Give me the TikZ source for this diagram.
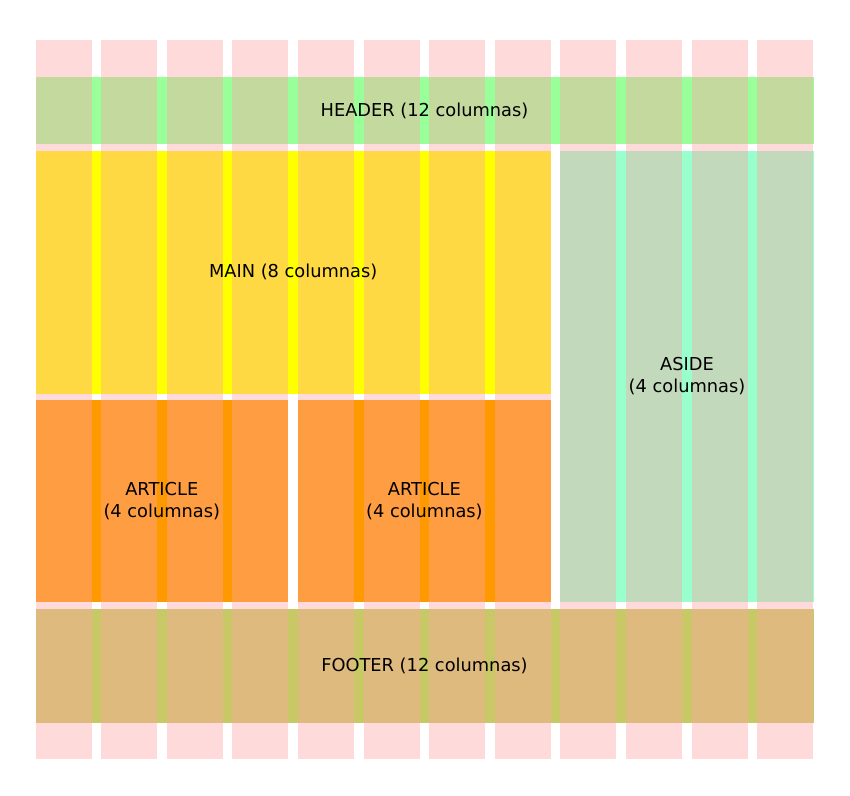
\documentclass[tikz,border=0pt]{standalone}
\usepackage{fontspec}
\setmainfont{DejaVu Sans}
\definecolor{colpink}{RGB}{255,165,165}
\definecolor{hdr}{RGB}{153,255,153}
\definecolor{mainc}{RGB}{255,255,0}
\definecolor{artc}{RGB}{255,153,0}
\definecolor{asidec}{RGB}{153,255,204}
\definecolor{ftr}{RGB}{200,201,102}
\tikzset{
  region/.style={draw=none},
  gridcol/.style={fill=colpink, fill opacity=0.41, draw=none},
  lbl/.style={font=\fontsize{17.8}{22}\selectfont, text=black, align=center, inner sep=0pt}
}
\begin{document}
\begin{tikzpicture}[x=1pt,y=-1pt]
\useasboundingbox (0,0) rectangle (850,795);
% layout regions
\fill[hdr]    (35.5,77)    rectangle (813.5,144);
\fill[mainc]  (35.5,150.7) rectangle (550.9,393.6);
\fill[artc]   (35.5,400)   rectangle (288.1,602);
\fill[artc]   (297.9,400)  rectangle (550.9,602);
\fill[asidec] (560.3,150.7) rectangle (813.5,602);
\fill[ftr]    (35.5,609)   rectangle (813.5,723);
% grid columns
\foreach \i in {0,...,11}{
  \fill[gridcol] ({35.5+65.6*\i},40) rectangle ({35.5+65.6*\i+56},759.3);
}
% labels
\node[lbl] (header) at (424.5,110.5) {HEADER (12 columnas)};
\node[lbl] (main) at (293.2,272) {MAIN (8 columnas)};
\node[lbl] (art1) at (161.8,501) {ARTICLE\\(4 columnas)};
\node[lbl] (art2) at (424.4,501) {ARTICLE\\(4 columnas)};
\node[lbl] (aside) at (687,376) {ASIDE\\(4 columnas)};
\node[lbl] (footer) at (424.5,666) {FOOTER (12 columnas)};
\end{tikzpicture}
\end{document}
